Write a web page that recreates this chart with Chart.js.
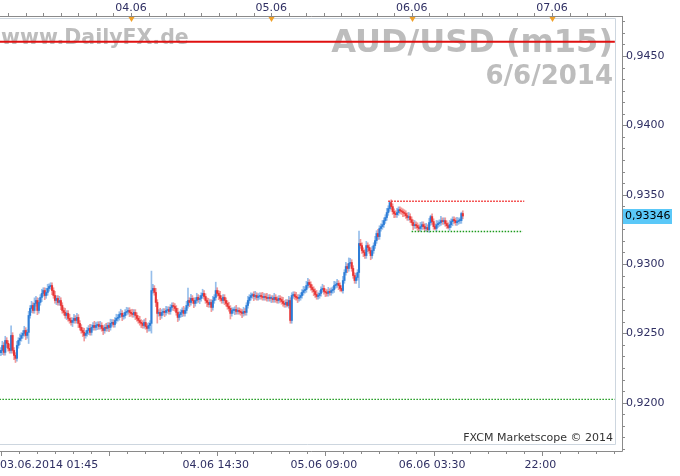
<!DOCTYPE html>
<html>
<head>
<meta charset="utf-8">
<script src="https://cdn.jsdelivr.net/npm/chart.js@4.4.1/dist/chart.umd.min.js"></script>
<style>
  html, body { margin: 0; padding: 0; background: #fff; }
  #wrap { width: 680px; height: 476px; }
</style>
</head>
<body>
<div id="wrap"><canvas id="chart" width="680" height="476"></canvas></div>
<script>
// AUD/USD m15 Kerzen, Index 0 = 03.06.2014 01:45
const firstOpen = 0.92360;
const closes = [
  0.92377,0.92413,0.92363,0.92449,0.92428,0.92392,0.92377,0.92485,0.92377,0.92341,
  0.92320,0.92413,0.92449,0.92464,0.92485,0.92500,0.92521,0.92485,0.92507,0.92629,
  0.92680,0.92701,0.92665,0.92716,0.92737,0.92665,0.92723,0.92759,0.92788,0.92809,
  0.92773,0.92795,0.92824,0.92838,0.92845,0.92809,0.92773,0.92737,0.92752,0.92723,
  0.92737,0.92701,0.92665,0.92651,0.92629,0.92644,0.92608,0.92593,0.92579,0.92593,
  0.92608,0.92593,0.92615,0.92572,0.92543,0.92521,0.92507,0.92485,0.92500,0.92521,
  0.92536,0.92507,0.92543,0.92557,0.92543,0.92557,0.92564,0.92550,0.92557,0.92536,
  0.92521,0.92543,0.92536,0.92557,0.92543,0.92572,0.92579,0.92564,0.92593,0.92608,
  0.92615,0.92636,0.92644,0.92622,0.92629,0.92651,0.92658,0.92665,0.92651,0.92644,
  0.92636,0.92651,0.92629,0.92608,0.92593,0.92579,0.92572,0.92557,0.92579,0.92550,
  0.92536,0.92557,0.92572,0.92809,0.92824,0.92795,0.92723,0.92644,0.92651,0.92629,
  0.92651,0.92658,0.92651,0.92665,0.92672,0.92658,0.92687,0.92701,0.92694,0.92680,
  0.92651,0.92615,0.92636,0.92651,0.92665,0.92644,0.92665,0.92701,0.92737,0.92723,
  0.92752,0.92737,0.92716,0.92737,0.92759,0.92744,0.92752,0.92773,0.92788,0.92766,
  0.92737,0.92723,0.92708,0.92723,0.92687,0.92737,0.92759,0.92809,0.92788,0.92773,
  0.92752,0.92737,0.92759,0.92737,0.92716,0.92694,0.92680,0.92644,0.92665,0.92665,
  0.92672,0.92658,0.92665,0.92658,0.92651,0.92644,0.92658,0.92651,0.92701,0.92737,
  0.92759,0.92773,0.92780,0.92766,0.92773,0.92759,0.92766,0.92773,0.92766,0.92759,
  0.92766,0.92759,0.92752,0.92759,0.92752,0.92752,0.92744,0.92759,0.92744,0.92737,
  0.92752,0.92744,0.92730,0.92716,0.92708,0.92723,0.92701,0.92737,0.92593,0.92773,
  0.92780,0.92766,0.92759,0.92752,0.92759,0.92773,0.92795,0.92809,0.92816,0.92845,
  0.92867,0.92852,0.92831,0.92816,0.92802,0.92780,0.92766,0.92773,0.92788,0.92816,
  0.92824,0.92802,0.92795,0.92788,0.92802,0.92795,0.92809,0.92816,0.92845,0.92852,
  0.92860,0.92845,0.92824,0.92809,0.92881,0.92939,0.92982,0.92968,0.93004,0.93011,
  0.92968,0.92917,0.92881,0.92903,0.92939,0.93148,0.93133,0.93097,0.93083,0.93061,
  0.93133,0.93119,0.93097,0.93061,0.93097,0.93133,0.93169,0.93220,0.93198,0.93256,
  0.93270,0.93284,0.93313,0.93335,0.93371,0.93400,0.93443,0.93414,0.93378,0.93364,
  0.93356,0.93371,0.93392,0.93385,0.93378,0.93371,0.93364,0.93349,0.93335,0.93342,
  0.93320,0.93299,0.93277,0.93284,0.93277,0.93263,0.93256,0.93270,0.93284,0.93270,
  0.93256,0.93263,0.93248,0.93299,0.93342,0.93306,0.93270,0.93256,0.93284,0.93292,
  0.93299,0.93313,0.93306,0.93313,0.93292,0.93277,0.93263,0.93284,0.93306,0.93320,
  0.93313,0.93299,0.93306,0.93313,0.93313,0.93364,0.93346
];
// Dochtlängen in Pips (über max(open,close) / unter min(open,close))
const wickUp = [
  2,3,2,3,2,2,3,7,2,2, 2,3,2,3,2,2,3,2,2,3, 2,3,2,4,3,2,3,2,3,2, 2,3,3,2,2,2,2,3,2,2,
  3,2,2,2,3,2,2,3,2,2, 3,2,3,2,2,2,2,3,2,2, 2,3,2,2,3,2,2,2,3,2, 2,2,3,2,2,3,2,2,2,3,
  2,2,3,2,2,2,3,2,2,2, 3,2,2,2,2,3,2,2,2,3, 2,2,2,14,3,2,3,2,2,3, 2,2,2,3,2,2,2,2,2,2,
  2,3,2,2,2,3,2,3,9,2, 3,2,2,2,3,2,2,2,3,2, 2,2,3,2,2,3,2,6,2,2, 3,2,2,2,2,2,3,2,2,2,
  2,3,2,2,2,2,3,2,2,3, 2,2,1,2,3,2,2,2,2,3, 2,2,3,2,2,2,2,3,2,2, 2,2,2,3,2,2,2,3,2,2,
  2,2,3,2,2,2,2,3,2,3, 3,2,2,2,2,2,3,2,2,2, 3,2,2,2,3,2,2,2,3,2, 3,2,2,2,3,2,3,2,4,3,
  2,2,2,3,2,9,3,2,2,2, 3,2,2,2,3,2,3,2,3,2, 2,3,2,2,3,2,1,2,2,2, 2,3,2,2,2,2,2,2,2,3,
  2,2,2,3,2,2,2,3,2,2, 2,3,2,3,1,2,2,2,3,2, 2,3,2,2,2,2,2,3,2,2, 2,2,3,2,2,1,2
];
const wickDn = [
  2,3,2,2,3,2,2,2,2,3, 3,2,2,3,2,2,2,3,2,8, 2,3,2,2,2,3,2,2,3,2, 3,2,2,2,2,3,2,2,3,2,
  2,3,2,2,2,3,2,2,2,3, 2,2,2,3,2,2,3,4,2,2, 3,2,2,2,2,2,3,2,2,2, 3,2,2,2,3,2,2,2,2,2,
  2,2,2,3,2,2,2,2,3,2, 2,2,3,2,2,2,3,2,2,2, 3,2,4,7,2,2,3,7,2,3, 2,2,3,2,2,2,2,2,3,2,
  2,3,2,2,3,2,2,2,2,3, 2,2,3,2,2,2,3,2,2,2, 2,3,2,2,3,2,2,2,2,3, 2,2,2,3,2,2,2,4,2,2,
  3,2,2,2,2,3,2,2,2,2, 2,2,2,3,2,2,2,2,2,2, 2,2,2,2,2,3,2,2,2,2, 2,2,2,2,2,2,1,2,2,2,
  2,2,2,3,2,2,2,2,2,2, 2,2,2,2,3,2,2,2,2,2, 2,2,3,2,2,2,2,2,2,2, 2,3,2,1,2,2,2,3,2,2,
  2,2,2,2,2,11,2,2,3,2, 2,3,2,3,2,2,2,2,2,2, 2,2,2,2,2,2,2,2,2,3, 2,2,2,2,2,3,2,2,2,2,
  2,2,3,2,2,2,2,2,2,2, 2,2,1,2,2,2,2,1,2,2, 2,2,2,2,2,2,1,2,2,3, 2,2,2,2,2,2,2
];

// Achsen
const dayIdx = [89, 185, 281, 377];
const dayLabels = ['04.06', '05.06', '06.06', '07.06'];
const timeIdx = [0, 147, 221, 295, 369];
const timeLabels = ['03.06.2014 01:45', '04.06 14:30', '05.06 09:00', '06.06 03:30', '22:00'];
const priceTicks = [0.9200, 0.9250, 0.9300, 0.9350, 0.9400, 0.9450];
const lastPrice = 0.93346;

// Linien im Chart
const redLevel = 0.94603;
const greenLevel = 0.92024;
const resistance = 0.93452;
const support = 0.93234;

const opens = [firstOpen].concat(closes.slice(0, -1));
const highs = closes.map((c, i) => Math.max(c, opens[i]) + wickUp[i] / 10000);
const lows = closes.map((c, i) => Math.min(c, opens[i]) - wickDn[i] / 10000);

const upBody = 'rgb(45,125,215)', downBody = 'rgb(232,52,52)';
const upWick = 'rgba(45,125,215,0.5)', downWick = 'rgba(232,52,52,0.5)';
const isUp = closes.map((c, i) => c >= opens[i]);

const fmt = v => v.toFixed(4).replace('.', ',');
const axisFont = '11px "DejaVu Sans"';
const axisColor = '#2f2f63';

const deco = {
    id: 'deco',
    beforeDraw(chart) {
        const ctx = chart.ctx;
        const a = chart.chartArea;
        ctx.save();
        ctx.fillStyle = '#fff';
        ctx.fillRect(0, 0, chart.width, chart.height);
        // Panel-Rahmen (oben, rechts, unten)
        ctx.strokeStyle = '#cdd6df';
        ctx.lineWidth = 1;
        ctx.beginPath();
        ctx.moveTo(0, a.top + 2.5); ctx.lineTo(a.right - 6.5, a.top + 2.5);
        ctx.lineTo(a.right - 6.5, a.bottom - 6.5); ctx.lineTo(0, a.bottom - 6.5);
        ctx.stroke();
        // Wasserzeichen
        ctx.fillStyle = '#bdbdbd';
        ctx.textBaseline = 'alphabetic';
        ctx.font = 'bold 20.5px "DejaVu Sans"';
        ctx.textAlign = 'left';
        ctx.fillText('www.DailyFX.de', 1, 44);
        ctx.textAlign = 'right';
        ctx.font = 'bold 32px "DejaVu Sans"';
        ctx.fillText('AUD/USD (m15)', 613, 52);
        ctx.font = 'bold 26px "DejaVu Sans"';
        ctx.fillText('6/6/2014', 613, 84);
        ctx.font = '11px "DejaVu Sans"';
        ctx.fillStyle = '#333';
        ctx.fillText('FXCM Marketscope \u00a9 2014', 613, 441);
        ctx.restore();
    },
    afterDraw(chart) {
        const ctx = chart.ctx;
        const a = chart.chartArea;
        const xs = chart.scales.x, ys = chart.scales.y;
        ctx.save();
        ctx.strokeStyle = '#8a8a8a';
        ctx.lineWidth = 1;
        ctx.beginPath();
        ctx.moveTo(0, a.top + 0.5); ctx.lineTo(a.right + 0.5, a.top + 0.5);
        ctx.moveTo(a.right + 0.5, a.top); ctx.lineTo(a.right + 0.5, a.bottom + 0.5);
        ctx.moveTo(0, a.bottom + 0.5); ctx.lineTo(a.right + 0.5, a.bottom + 0.5);
        // rechte Achse: Haupt- und Nebenstriche
        const step = 0.005 / 6;
        for (let v = priceTicks[0] - 6 * step; v <= ys.max; v += step) {
            const y = Math.round(ys.getPixelForValue(v)) + 0.5;
            if (y < a.top || y > a.bottom) continue;
            const major = priceTicks.some(p => Math.abs(p - v) < 1e-7);
            ctx.moveTo(a.right, y); ctx.lineTo(a.right + (major ? 5 : 3), y);
        }
        // obere Achse: 3h-Striche
        for (let i = dayIdx[0] - 96; i <= xs.max; i += 12) {
            if (i < xs.min) continue;
            const x = Math.round(xs.getPixelForValue(i)) + 0.5;
            ctx.moveTo(x, a.top); ctx.lineTo(x, a.top - 3);
        }
        // untere Achse
        const span = timeIdx[2] - timeIdx[1];
        for (let k = 0; k * span / 6 <= xs.max; k++) {
            const i = k * span / 6;
            const x = Math.round(xs.getPixelForValue(i)) + 0.5;
            ctx.moveTo(x, a.bottom); ctx.lineTo(x, a.bottom + (k % 6 === 0 ? 5 : 3));
        }
        ctx.stroke();

        // Beschriftungen
        ctx.font = axisFont;
        ctx.fillStyle = axisColor;
        ctx.textBaseline = 'middle';
        ctx.textAlign = 'left';
        priceTicks.forEach(p => ctx.fillText(fmt(p), a.right + 4, ys.getPixelForValue(p)));
        ctx.textAlign = 'center';
        dayLabels.forEach((t, k) => ctx.fillText(t, xs.getPixelForValue(dayIdx[k]), 8));
        timeLabels.forEach((t, k) => {
            const x = xs.getPixelForValue(timeIdx[k]);
            ctx.textAlign = k === 0 ? 'left' : 'center';
            ctx.fillText(t, k === 0 ? 0 : x, 465);
        });
        // Tagesmarker
        ctx.fillStyle = '#f0a028';
        dayIdx.forEach(d => {
            const x = Math.round(xs.getPixelForValue(d)) + 0.5;
            ctx.beginPath();
            ctx.moveTo(x - 3, a.top + 1); ctx.lineTo(x + 3, a.top + 1); ctx.lineTo(x, a.top + 6);
            ctx.closePath();
            ctx.fill();
        });
        // aktueller Kurs
        const py = Math.round(ys.getPixelForValue(lastPrice));
        ctx.fillStyle = '#5ac8f8';
        ctx.fillRect(a.right + 1, py - 7, 49, 15);
        ctx.fillStyle = '#000';
        ctx.textAlign = 'left';
        ctx.fillText(lastPrice.toFixed(5).replace('.', ','), a.right + 3, py + 0.5);
        ctx.restore();
    }
};

const xEnd = 420;
new Chart(document.getElementById('chart'), {
    type: 'bar',
    data: {
        datasets: [
            {
                type: 'line', data: [{x: -1, y: redLevel}, {x: xEnd, y: redLevel}],
                borderColor: '#e01010', borderWidth: 2, pointRadius: 0, order: 0
            },
            {
                type: 'line', data: [{x: -1, y: greenLevel}, {x: xEnd, y: greenLevel}],
                borderColor: '#1c9a1c', borderWidth: 1.3, borderDash: [1.5, 1.5], pointRadius: 0, order: 0
            },
            {
                type: 'line', data: [{x: 265, y: resistance}, {x: 358, y: resistance}],
                borderColor: '#f02020', borderWidth: 1.5, borderDash: [1.5, 1.5], pointRadius: 0, order: 0
            },
            {
                type: 'line', data: [{x: 281, y: support}, {x: 357, y: support}],
                borderColor: '#1c9a1c', borderWidth: 1.5, borderDash: [1.5, 1.5], pointRadius: 0, order: 0
            },
            {
                data: closes.map((c, i) => ({x: i, y: [opens[i], c]})),
                backgroundColor: isUp.map(u => u ? upBody : downBody),
                barThickness: 1.4, minBarLength: 1, grouped: false, borderWidth: 0, order: 1
            },
            {
                data: closes.map((c, i) => ({x: i, y: [lows[i], highs[i]]})),
                backgroundColor: isUp.map(u => u ? upWick : downWick),
                barThickness: 1, grouped: false, borderWidth: 0, order: 2
            }
        ]
    },
    options: {
        responsive: false,
        animation: false,
        devicePixelRatio: 1,
        layout: { padding: { left: 0, top: 16, right: 58, bottom: 25 } },
        plugins: { legend: { display: false }, tooltip: { enabled: false } },
        scales: {
            x: { type: 'linear', min: -0.6, max: 424.9, display: false, offset: false },
            y: { type: 'linear', min: 0.91652, max: 0.94788, display: false }
        }
    },
    plugins: [deco]
});
</script>
</body>
</html>
